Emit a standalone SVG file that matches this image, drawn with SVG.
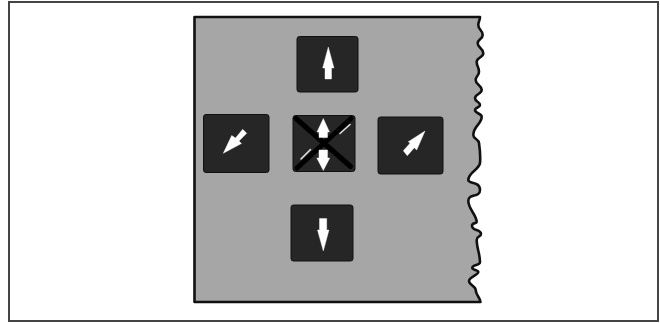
<svg xmlns="http://www.w3.org/2000/svg" width="660" height="323" viewBox="0 0 660 323">
  <style>
    .btn{fill:#262626;stroke:#111;stroke-width:1}
    .arrow{fill:#fff;stroke:#fff;stroke-width:.4;stroke-linejoin:round}
    .x{stroke:#000;stroke-width:5;stroke-linecap:round;fill:none}
    .slash{stroke:#ddd;stroke-width:1.600;stroke-linecap:round;fill:none}
  </style>
  <rect width="660" height="323" fill="#fff"/>
  <rect id="frame" x="9" y="2" width="649" height="319" fill="#fff" stroke="#444" stroke-width="2"/>
  <path id="panel" d="M194.500 17H480C480 21 478.300 21 478.300 25C478.300 30 482.700 30 482.700 35C482.700 39 477.700 39 477.700 43.300C477.700 48 483.300 48 483.300 53.300C483.300 57.500 476.700 57.500 476.700 61.700C476.700 66.700 479 66.700 479 71.700C479 76 475.700 76 475.700 80C475.700 85 481.700 85 481.700 90C481.700 94 475 94 475 98.300C475 101.700 480 101.700 480 105C480 107.500 475 107.500 475 110C475 113.500 481.700 113.500 481.700 116.700C481.700 124 473.300 126 473.300 135C473.300 139 479 139 479 143.300C480 150 480.500 157 480 163C479 170 468.300 172 468.300 180C468.300 184 480 181 480 190C480 198 468.300 193 468.300 201C468.300 209 476.700 215 476.700 222C476.700 224 472 222 472 226C472 231 481 229 481 234C481 237 476.700 236 476.700 240C476.700 248 480 254 480 262C480 266 472.300 264 472.300 268C472.300 270 478.300 270 478.300 272C478.300 275 469 277 469 281C469 285 475.700 286 475.700 290C475.700 295 480.500 298 480.500 302H194.500Z" fill="#a6a6a6" stroke="#111" stroke-width="2.600" stroke-linejoin="round"/>
  <g id="btn-up">
    <rect class="btn" x="297" y="36.500" width="61" height="55.500" rx="2.500"/>
    <path class="arrow" d="M328.300 47L334 68H331.500V79H325V68H322.700Z"/>
  </g>
  <g id="btn-left">
    <rect class="btn" x="203.500" y="114.500" width="65.500" height="58" rx="2.500"/>
    <path class="arrow" d="M223.300 153.300L231.700 135.500L235.500 138L242.700 129.300L246.700 133.300L239 141L241.500 143.500Z"/>
  </g>
  <g id="btn-center">
    <rect class="btn" x="293" y="115.500" width="62" height="56" rx="2.500"/>
    <path class="slash" d="M340 133.500L350 124.500M301 159L310.500 149.500"/>
    <path class="x" d="M296 118.500L350.500 166.500M351 118.500L297 168"/>
    <path class="arrow" d="M323.300 118.500L329.500 132H327.500V137.500H319V132H317Z"/>
    <path class="arrow" d="M319 150H327.500V158H329.800L323.300 170.500L316.800 158H319Z"/>
  </g>
  <g id="btn-right">
    <rect class="btn" x="378" y="117" width="65" height="57" rx="2.500"/>
    <path class="arrow" d="M425 131L416.700 150L414.300 147.700L407.300 155.700L403.300 150.700L410 143.300L408.300 141.700Z"/>
  </g>
  <g id="btn-down">
    <rect class="btn" x="291" y="205" width="62" height="56" rx="2.500"/>
    <path class="arrow" d="M319.500 218.500H326.700V230H329L323.300 251L317.500 230H319.500Z"/>
  </g>
</svg>
